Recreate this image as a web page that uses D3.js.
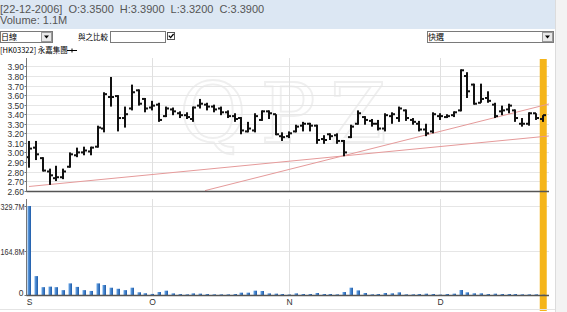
<!DOCTYPE html>
<html><head><meta charset="utf-8">
<script src="https://cdn.jsdelivr.net/npm/d3@7/dist/d3.min.js"></script>
<style>
html,body{margin:0;padding:0;background:#fff;overflow:hidden;}
svg{display:block;font-family:"Liberation Sans",Arial,sans-serif;}
</style></head>
<body><svg id="c" width="567" height="312"></svg>
<script>
// ---------- data ----------
const dates = [
 "2006-09-06","2006-09-07","2006-09-08","2006-09-11","2006-09-12","2006-09-13","2006-09-14","2006-09-15",
 "2006-09-18","2006-09-19","2006-09-20","2006-09-21","2006-09-22","2006-09-25","2006-09-26","2006-09-27",
 "2006-09-28","2006-09-29",
 "2006-10-03","2006-10-04","2006-10-05","2006-10-06","2006-10-09","2006-10-10","2006-10-11","2006-10-12",
 "2006-10-13","2006-10-16","2006-10-17","2006-10-18","2006-10-19","2006-10-20","2006-10-23","2006-10-24",
 "2006-10-25","2006-10-26","2006-10-27","2006-10-31",
 "2006-11-01","2006-11-02","2006-11-03","2006-11-06","2006-11-07","2006-11-08","2006-11-09","2006-11-10",
 "2006-11-13","2006-11-14","2006-11-15","2006-11-16","2006-11-17","2006-11-20","2006-11-21","2006-11-22",
 "2006-11-23","2006-11-24","2006-11-27","2006-11-28","2006-11-29","2006-11-30",
 "2006-12-01","2006-12-04","2006-12-05","2006-12-06","2006-12-07","2006-12-08","2006-12-11","2006-12-12",
 "2006-12-13","2006-12-14","2006-12-15","2006-12-18","2006-12-19","2006-12-20","2006-12-21","2006-12-22"];
const openP  = [2.95,3.05,2.94,2.80,2.73,2.74,2.85,2.97,3.00,3.01,3.06,3.25,3.58,3.59,3.36,3.46,3.65,3.56,
 3.47,3.50,3.38,3.45,3.41,3.39,3.35,3.49,3.50,3.48,3.46,3.42,3.38,3.36,3.22,3.23,3.34,3.43,3.40,3.17,
 3.17,3.22,3.28,3.30,3.28,3.14,3.19,3.18,3.12,3.16,3.30,3.37,3.33,3.30,3.25,3.38,3.36,3.44,3.34,3.30,3.24,3.22,
 3.38,3.37,3.39,3.44,3.80,3.71,3.52,3.57,3.50,3.43,3.45,3.44,3.30,3.30,3.41,3.35];
const highP  = [3.12,3.12,2.95,2.83,2.86,2.83,3.00,3.05,3.06,3.06,3.28,3.63,3.79,3.60,3.48,3.71,3.66,3.57,
 3.54,3.52,3.48,3.47,3.43,3.42,3.48,3.56,3.52,3.50,3.48,3.44,3.41,3.37,3.32,3.41,3.44,3.44,3.40,3.21,
 3.22,3.29,3.32,3.31,3.29,3.18,3.20,3.20,3.13,3.29,3.44,3.38,3.35,3.34,3.41,3.42,3.48,3.45,3.36,3.33,3.30,3.42,
 3.41,3.40,3.43,3.87,3.84,3.72,3.72,3.64,3.52,3.49,3.51,3.45,3.36,3.42,3.41,3.39];
const lowP   = [2.84,2.92,2.80,2.66,2.70,2.72,2.84,2.95,2.97,2.97,3.05,3.21,3.48,3.22,3.26,3.44,3.49,3.42,
 3.44,3.32,3.37,3.39,3.36,3.35,3.32,3.46,3.44,3.42,3.39,3.36,3.32,3.19,3.21,3.21,3.33,3.35,3.18,3.12,
 3.15,3.21,3.22,3.22,3.09,3.09,3.13,3.09,2.96,3.15,3.29,3.29,3.27,3.23,3.22,3.30,3.32,3.33,3.29,3.22,3.17,3.20,
 3.34,3.36,3.37,3.43,3.57,3.50,3.52,3.52,3.36,3.39,3.41,3.32,3.27,3.28,3.34,3.32];
const closeP = [3.04,2.98,2.81,2.76,2.74,2.80,2.98,3.00,3.02,3.05,3.26,3.61,3.58,3.36,3.40,3.63,3.51,3.46,
 3.49,3.34,3.46,3.43,3.39,3.37,3.47,3.51,3.48,3.45,3.42,3.38,3.35,3.23,3.25,3.38,3.43,3.41,3.19,3.16,
 3.20,3.27,3.30,3.28,3.13,3.13,3.17,3.12,3.00,3.27,3.41,3.34,3.30,3.25,3.39,3.40,3.46,3.36,3.32,3.24,3.20,3.40,
 3.38,3.38,3.42,3.86,3.64,3.51,3.56,3.54,3.38,3.44,3.49,3.36,3.30,3.41,3.36,3.39];
const volumeM = [329.7,70,29,31,29,18,43,30,18,15,43,37,27,23,18,27,10,6.5,
 4,11,16,6,3.5,2.5,6,5,3.7,2.5,2.5,2.5,3.7,8.6,8.6,16,14.8,6,5,3.7,
 2,6,3.7,3.7,7.4,3.7,3.7,2.5,11,27,17,7.4,2.5,3.7,7.4,6.2,9.8,2.5,2.5,3.7,4.9,3.7,
 1.5,3.7,4.9,18.5,9.8,6.2,6.2,3.7,4.9,3.7,3.7,3.7,2.5,2.5,2.5,1.1];
const priceTicks = [3.90,3.80,3.70,3.60,3.50,3.40,3.30,3.20,3.10,3.00,2.90,2.80,2.70,2.60];
const volumeTicks = [0,164.8,329.7];
const monthStarts = ["2006-09-06","2006-10-03","2006-11-01","2006-12-01"];
const monthLabels = ["S","O","N","D"];
// trendlines: [bar index, price]
const trendA = [[0,2.643],[75.9,3.172]];
const trendB = [[25.7,2.60],[75.9,3.507]];
const headerText = "[22-12-2006]  O:3.3500  H:3.3900  L:3.3200  C:3.3900";
const volumeText = "Volume: 1.1M";
const stockName = "[HK03322] 永嘉集團";

// ---------- layout ----------
const svg = d3.select("#c");
const n = dates.length;
const x = d3.scaleLinear().domain([0, n-1]).range([29, 542.75]);
const yP = d3.scaleLinear().domain([2.60, 3.95]).range([190.6, 61.7]);
const yV = d3.scaleLinear().domain([0, 329.7]).range([295, 206]);
const left = 26.5, right = 549;
const cjk = '"Noto Sans CJK TC","Noto Sans CJK SC",sans-serif';

// header
svg.append("rect").attr("x",0).attr("y",0).attr("width",555).attr("height",29).attr("fill","#dce7f3");
svg.append("rect").attr("x",555).attr("y",0).attr("width",12).attr("height",312).attr("fill","#f3f3f3");
svg.append("line").attr("x1",555.5).attr("x2",555.5).attr("y1",0).attr("y2",312).attr("stroke","#dcdcdc");
svg.append("text").attr("x",0).attr("y",13).attr("font-size",11).attr("fill","#555").attr("xml:space","preserve").text(headerText);
svg.append("text").attr("x",0).attr("y",24).attr("font-size",11).attr("fill","#555").text(volumeText);

// controls row
function selectBox(x0, w, label){
  svg.append("rect").attr("x",x0+0.5).attr("y",31.5).attr("width",w).attr("height",11).attr("fill","#fff").attr("stroke","#7a7a7a");
  svg.append("rect").attr("x",x0+w-10.5).attr("y",32.5).attr("width",10).attr("height",9).attr("fill","#e8e8e8").attr("stroke","#9a9a9a");
  svg.append("path").attr("d",`M${x0+w-8},35.5 h5 l-2.5,3 z`).attr("fill","#000");
  svg.append("text").attr("x",x0+1).attr("y",40).attr("font-size",8).attr("font-family",cjk).attr("fill","#000").text(label);
}
selectBox(0, 52, "日線");
svg.append("text").attr("x",78).attr("y",40).attr("font-size",7.5).attr("font-family",cjk).attr("fill","#000").text("與之比較");
svg.append("rect").attr("x",110.5).attr("y",31.5).attr("width",55).attr("height",11).attr("fill","#fff").attr("stroke","#7a7a7a");
svg.append("rect").attr("x",167.5).attr("y",32.5).attr("width",7).attr("height",7).attr("fill","#fff").attr("stroke","#555");
svg.append("path").attr("d","M168.8,35.6 l1.8,2 l3,-3.6").attr("fill","none").attr("stroke","#000").attr("stroke-width",1.3);
selectBox(427, 126, "快選");

// stock name row
svg.append("text").attr("x",0).attr("y",53).attr("font-size",7.5).attr("font-family",cjk).attr("fill","#000").text(stockName);
svg.append("line").attr("x1",67).attr("x2",77).attr("y1",50.5).attr("y2",50.5).attr("stroke","#000");
svg.append("line").attr("x1",72).attr("x2",72).attr("y1",48.5).attr("y2",52.5).attr("stroke","#000");

// watermark
svg.append("text").attr("x",290).attr("y",142).attr("text-anchor","middle").attr("font-size",82)
  .attr("font-family","DejaVu Serif,serif").attr("fill","none").attr("stroke","#efefef").attr("stroke-width",1.8)
  .attr("letter-spacing",14).text("QPZ");

// price gridlines
svg.append("g").selectAll("line").data(priceTicks.slice(0,-1)).join("line")
  .attr("x1",left).attr("x2",right).attr("y1",d=>Math.round(yP(d))+0.5).attr("y2",d=>Math.round(yP(d))+0.5)
  .attr("stroke","#e6e6e6");
// volume gridlines
svg.append("g").selectAll("line").data(volumeTicks.slice(1)).join("line")
  .attr("x1",left).attr("x2",right).attr("y1",d=>Math.round(yV(d))+0.5).attr("y2",d=>Math.round(yV(d))+0.5)
  .attr("stroke","#e6e6e6");
// month vertical grid
const monthIdx = monthStarts.map(d=>dates.indexOf(d));
monthIdx.forEach(i=>{
  const xx = Math.round(x(i))+0.5;
  if(i>0){
    svg.append("line").attr("x1",xx).attr("x2",xx).attr("y1",58).attr("y2",191).attr("stroke","#e0e0e0");
    svg.append("line").attr("x1",xx).attr("x2",xx).attr("y1",199).attr("y2",295).attr("stroke","#e0e0e0");
  }
});

// highlight of last bar
svg.append("rect").attr("x",x(n-1)-3).attr("y",59).attr("width",7).attr("height",252).attr("fill","#f5b51a");

// trendlines
const tl = d3.line().x(d=>x(d[0])).y(d=>yP(d[1]));
[trendA,trendB].forEach(t=>svg.append("path").attr("d",tl(t)).attr("fill","none").attr("stroke","#e59a9a").attr("stroke-width",1));

// OHLC bars
const g = svg.append("g").attr("fill","#111");
d3.range(n).forEach(i=>{
  const cx = Math.round(x(i));
  const yh = yP(highP[i]), yl = yP(lowP[i]);
  g.append("rect").attr("x",cx-1).attr("y",yh).attr("width",2).attr("height",Math.max(1.5,yl-yh));
  g.append("rect").attr("x",cx-3).attr("y",yP(openP[i])-1).attr("width",3).attr("height",2);
  g.append("rect").attr("x",cx).attr("y",yP(closeP[i])-1).attr("width",3).attr("height",2);
});

// volume bars
const grad = svg.append("defs").append("linearGradient").attr("id","vb").attr("x1",0).attr("x2",1).attr("y1",0).attr("y2",0);
grad.append("stop").attr("offset","0%").attr("stop-color","#6aa7e8");
grad.append("stop").attr("offset","100%").attr("stop-color","#1d5aa8");
svg.append("g").selectAll("rect").data(volumeM).join("rect")
  .attr("x",(d,i)=>Math.round(x(i))-1.5).attr("width",3.5)
  .attr("y",d=>yV(d)).attr("height",d=>yV(0)-yV(d)).attr("fill","url(#vb)");

// axes lines
svg.append("line").attr("x1",left).attr("x2",left).attr("y1",58).attr("y2",192).attr("stroke","#777");
svg.append("line").attr("x1",left).attr("x2",right).attr("y1",191.5).attr("y2",191.5).attr("stroke","#555").attr("stroke-width",1.3);
svg.append("line").attr("x1",left).attr("x2",left).attr("y1",199).attr("y2",296).attr("stroke","#777");
svg.append("line").attr("x1",left).attr("x2",right).attr("y1",295.5).attr("y2",295.5).attr("stroke","#555").attr("stroke-width",1.3);
svg.append("line").attr("x1",0).attr("x2",555).attr("y1",309.5).attr("y2",309.5).attr("stroke","#e4e4e4");

// price axis labels
const ag = svg.append("g").attr("font-size",8.5).attr("fill","#333");
priceTicks.forEach(t=>{
  const yy = Math.round(yP(t))+0.5;
  ag.append("line").attr("x1",left-2).attr("x2",left).attr("y1",yy).attr("y2",yy).attr("stroke","#777");
  ag.append("text").attr("x",left-2.5).attr("y",yy+3).attr("text-anchor","end").text(t.toFixed(2));
});
// volume axis labels
volumeTicks.forEach(t=>{
  const yy = Math.round(yV(t))+0.5;
  ag.append("line").attr("x1",left-2).attr("x2",left).attr("y1",yy).attr("y2",yy).attr("stroke","#777");
  const txt = ag.append("text").attr("y",t===0?yy:yy+3).text(t===0?"0":t.toFixed(1)+"M");
  if(t===0) txt.attr("x",left-3).attr("text-anchor","end");
  else txt.attr("x",0.5).attr("textLength",24).attr("lengthAdjust","spacingAndGlyphs");
});
// month labels
monthIdx.forEach((i,k)=>{
  ag.append("text").attr("x",Math.round(x(i))+0.5).attr("y",305).attr("text-anchor","middle").text(monthLabels[k]);
});
</script></body></html>
